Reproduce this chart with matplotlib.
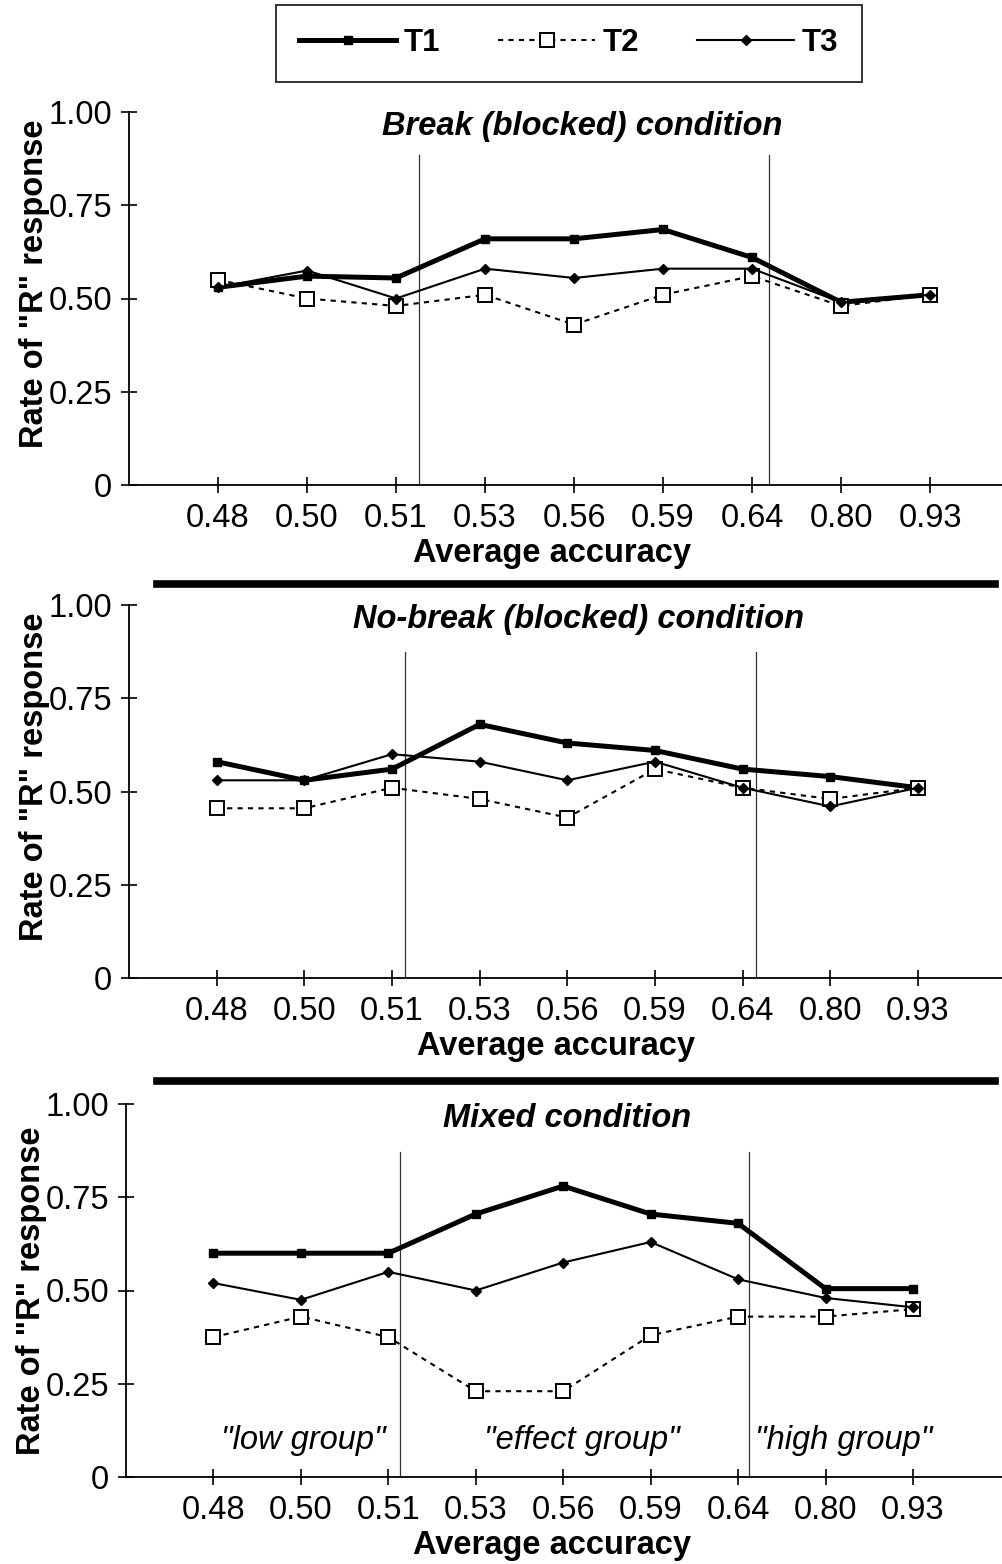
import matplotlib
matplotlib.use("Agg")
import matplotlib.pyplot as plt
from matplotlib.lines import Line2D

plt.rcParams['font.family'] = ['Liberation Sans', 'DejaVu Sans']

# Data
accuracy_labels = ["0.48", "0.50", "0.51", "0.53", "0.56", "0.59", "0.64", "0.80", "0.93"]
series_names = ["T1", "T2", "T3"]
panel_titles = ["Break (blocked) condition", "No-break (blocked) condition", "Mixed condition"]

break_t1 = [0.53, 0.56, 0.555, 0.66, 0.66, 0.685, 0.61, 0.49, 0.51]
break_t2 = [0.55, 0.50, 0.48, 0.51, 0.43, 0.51, 0.56, 0.48, 0.51]
break_t3 = [0.53, 0.575, 0.50, 0.58, 0.555, 0.58, 0.58, 0.49, 0.51]

nobreak_t1 = [0.58, 0.53, 0.56, 0.68, 0.63, 0.61, 0.56, 0.54, 0.51]
nobreak_t2 = [0.455, 0.455, 0.51, 0.48, 0.43, 0.56, 0.51, 0.48, 0.51]
nobreak_t3 = [0.53, 0.53, 0.60, 0.58, 0.53, 0.58, 0.51, 0.46, 0.51]

mixed_t1 = [0.60, 0.60, 0.60, 0.705, 0.78, 0.705, 0.68, 0.505, 0.505]
mixed_t2 = [0.375, 0.43, 0.375, 0.23, 0.23, 0.38, 0.43, 0.43, 0.45]
mixed_t3 = [0.52, 0.475, 0.55, 0.50, 0.575, 0.63, 0.53, 0.48, 0.455]

group_labels = ['"low group"', '"effect group"', '"high group"']

panels = [
    (break_t1, break_t2, break_t3),
    (nobreak_t1, nobreak_t2, nobreak_t3),
    (mixed_t1, mixed_t2, mixed_t3),
]

# layout (pixel based, figure is 1003 x 1564)
W, H = 1003.0, 1564.0
axes_px = [  # left, y of zero line, right xlim
    (129, 485, 8.82),
    (129, 978, 8.97),
    (126, 1477, 9.03),
]
boundaries = [(2.26, 6.19), (2.15, 6.15), (2.13, 6.13)]
boundary_top = [0.885, 0.875, 0.87]
title_x = [0.518, 0.514, 0.503]
xlabel_x = [0.484, 0.488, 0.486]

FS = 23.5

styles = [
    dict(color='black', lw=3.6, ls='-', marker='s', ms=6, mfc='black', mec='black', zorder=3),
    dict(color='black', lw=1.5, ls=(0, (2.5, 2.5)), marker='s', ms=10.5, mfc='white',
         mec='black', mew=1.4, zorder=4),
    dict(color='black', lw=1.5, ls='-', marker='D', ms=5, mfc='black', mec='black', zorder=5),
]

fig = plt.figure(figsize=(W / 100, H / 100), dpi=100)
x = list(range(len(accuracy_labels)))

handles = []
for i, (vals, (left, zero_y, xmax)) in enumerate(zip(panels, axes_px)):
    width_px = W - left
    ax = fig.add_axes([left / W, 1 - zero_y / H, width_px / W, 373 / H])
    for j, (v, st) in enumerate(zip(vals, styles)):
        ln, = ax.plot(x, v, label=series_names[j], **st)
        if i == 0:
            handles.append(ln)

    ax.set_xlim(-1, xmax)
    ax.set_ylim(0, 1)
    ax.set_xticks(x)
    ax.set_xticklabels(accuracy_labels)
    ax.set_yticks([0, 0.25, 0.5, 0.75, 1.0])
    ax.set_yticklabels(["0", "0.25", "0.50", "0.75", "1.00"])
    ax.tick_params(direction='inout', length=12, width=1.2, labelsize=FS)
    ax.tick_params(axis='x', pad=7)
    ax.tick_params(axis='y', pad=6)
    for s in ['top', 'right']:
        ax.spines[s].set_visible(False)
    for s in ['left', 'bottom']:
        ax.spines[s].set_linewidth(1.3)
    ax.patch.set_alpha(0)

    for b in boundaries[i]:
        ax.axvline(b, ymin=0, ymax=boundary_top[i], color='#333333', lw=0.9, zorder=1)

    ax.text(title_x[i], 0.962, panel_titles[i], transform=ax.transAxes, ha='center',
            va='center', fontsize=FS, fontweight='bold', fontstyle='italic')
    ax.set_xlabel("Average accuracy", fontsize=FS, fontweight='bold')
    ax.xaxis.set_label_coords(xlabel_x[i], -0.142)
    ax.set_ylabel('Rate of "R" response', fontsize=FS, fontweight='bold')
    ax.yaxis.set_label_coords(-0.09, 0.54 if i < 2 else 0.5)

    if i == 2:
        for gx, gl in zip([1.03, 4.21, 7.21], group_labels):
            ax.text(gx, 0.097, gl, ha='center', va='center', fontsize=FS, fontstyle='italic')

# thick separators between panels
for yy in [584, 1081]:
    fig.add_artist(Line2D([157 / W, 995 / W], [1 - yy / H, 1 - yy / H],
                          color='black', lw=5.5, transform=fig.transFigure))

leg = fig.legend(handles=handles, loc='upper center', bbox_to_anchor=(0.567, 1.0),
                 ncol=3, frameon=True, fancybox=False, edgecolor='black',
                 prop={'size': 22.5, 'weight': 'bold'}, handlelength=3.1,
                 handletextpad=0.25, columnspacing=1.85, borderpad=0.75, borderaxespad=0.15)
leg.get_frame().set_linewidth(1.4)

fig.savefig("out.png", dpi=100)
